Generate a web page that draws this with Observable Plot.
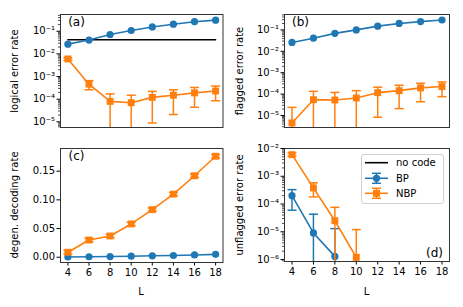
<!DOCTYPE html>
<html><head><meta charset="utf-8">
<script src="https://cdn.jsdelivr.net/npm/d3@7"></script>
<script src="https://cdn.jsdelivr.net/npm/@observablehq/plot@0.6"></script>
<style>
body{margin:0;background:#fff;font-family:"DejaVu Sans",sans-serif;}
#fig{position:relative;width:463px;height:307px;overflow:hidden;}
.p{position:absolute;}
.lab{position:absolute;font-size:10px;white-space:nowrap;color:#000;line-height:1;}
.ylab{transform:translate(-50%,-50%) rotate(-90deg);}
.xlab{transform:translate(-50%,-50%);}
</style></head><body><div id="fig"></div>
<script>
// ---------- data ----------
const L = [4, 6, 8, 10, 12, 14, 16, 18];
const noCode = 0.042;
const seriesNames = ["no code", "BP", "NBP"];
const panelTags = ["(a)", "(b)", "(c)", "(d)"];
const yLabels = ["logical error rate", "flagged error rate", "degen. decoding rate", "unflagged error rate"];
const xLabel = "L";

// (a) logical error rate
const bpLogical = [0.027, 0.041, 0.072, 0.108, 0.155, 0.205, 0.265, 0.31];
const nbpLogical = [6.0e-3, 4.6e-4, 8.0e-5, 7.0e-5, 1.2e-4, 1.5e-4, 1.9e-4, 2.3e-4];
const nbpLogicalLo = [5.2e-3, 2.6e-4, null, null, 8.9e-6, 2.1e-5, 4.4e-5, 8.5e-5];
const nbpLogicalHi = [6.7e-3, 6.6e-4, 1.7e-4, 1.5e-4, 2.2e-4, 2.6e-4, 3.3e-4, 3.8e-4];

// (b) flagged error rate
const bpFlagged = [0.026, 0.041, 0.069, 0.10, 0.15, 0.20, 0.245, 0.29];
const nbpFlagged = [4.5e-6, 5.5e-5, 5.3e-5, 6.6e-5, 1.17e-4, 1.45e-4, 1.95e-4, 2.25e-4];
const nbpFlaggedLo = [null, null, null, null, 8.3e-6, 2.1e-5, 4.4e-5, 7.6e-5];
const nbpFlaggedHi = [2.4e-5, 1.35e-4, 1.2e-4, 1.45e-4, 2.1e-4, 2.6e-4, 3.2e-4, 3.7e-4];

// (c) degenerate decoding rate
const bpDegen = [0.0005, 0.0008, 0.0012, 0.0018, 0.0025, 0.003, 0.004, 0.005];
const nbpDegen = [0.0087, 0.030, 0.037, 0.058, 0.083, 0.110, 0.142, 0.176];
const nbpDegenErr = [0.003, 0.003, 0.003, 0.003, 0.003, 0.003, 0.003, 0.003];

// (d) unflagged error rate
const Ld_bp = [4, 6, 8];
const bpUnflagged = [2.0e-4, 9.1e-6, 1.3e-6];
const bpUnflaggedLo = [6.0e-5, null, null];
const bpUnflaggedHi = [3.3e-4, 4.3e-5, 1.3e-5];
const Ld_nbp = [4, 6, 8, 10];
const nbpUnflagged = [6.0e-3, 3.8e-4, 2.5e-5, 1.2e-6];
const nbpUnflaggedLo = [5.3e-3, 1.8e-4, null, null];
const nbpUnflaggedHi = [6.9e-3, 5.8e-4, 7.6e-5, 1.2e-5];

// ---------- style ----------
const BLUE = "#1f77b4", ORANGE = "#ff7f0e";
const FONT = "DejaVu Sans";
const sup = {"-": "\u207B", "0": "\u2070", "1": "\u00B9", "2": "\u00B2", "3": "\u00B3", "4": "\u2074", "5": "\u2075", "6": "\u2076", "7": "\u2077", "8": "\u2078", "9": "\u2079"};
const fmtPow = d => "10" + String(Math.round(Math.log10(d))).replace(/./g, c => sup[c]);
const cap = {draw(ctx) { ctx.moveTo(-4.5, 0); ctx.lineTo(4.5, 0); }};

function rows(xs, v, lo, hi) {
  return xs.map((x, i) => ({L: x, v: v[i], lo: lo ? lo[i] : null, hi: hi ? hi[i] : null}));
}

function seriesMarks(data, color, symbol, r, yMin) {
  const err = data.filter(d => d.hi != null);
  return [
    Plot.line(data, {x: "L", y: "v", stroke: color, strokeWidth: 1.6}),
    Plot.ruleX(err, {x: "L", y1: d => d.lo == null ? yMin : d.lo, y2: "hi", stroke: color, strokeWidth: 1.5}),
    Plot.dot(err, {x: "L", y: "hi", symbol: cap, fill: "none", stroke: color, strokeWidth: 1.5}),
    Plot.dot(err.filter(d => d.lo != null), {x: "L", y: "lo", symbol: cap, fill: "none", stroke: color, strokeWidth: 1.5}),
    Plot.dot(data, {x: "L", y: "v", symbol, r, fill: color, stroke: "none"})
  ];
}

function logTicks(dom) {
  const lo = Math.floor(Math.log10(dom[0])), hi = Math.ceil(Math.log10(dom[1]));
  const major = [], minor = [];
  for (let k = lo; k <= hi; k++) {
    const b = Math.pow(10, k);
    if (b >= dom[0] && b <= dom[1]) major.push(b);
    for (let m = 2; m <= 9; m++) { const t = m * b; if (t >= dom[0] && t <= dom[1]) minor.push(t); }
  }
  return {major, minor};
}

const fig = document.getElementById("fig");

function place(node, left, top) {
  node.classList.add("p");
  node.style.left = left + "px";
  node.style.top = top + "px";
  fig.appendChild(node);
}

function makePanel({left, top, width, height, ml, mr, mt, mb, yType, yDomain, marks, showX, yTicks, yFmt}) {
  const axes = [];
  if (yType === "log") {
    const t = logTicks(yDomain);
    axes.push(Plot.axisY({ticks: t.minor, tickSize: 2, tickFormat: () => "", strokeWidth: 0.7}));
    axes.push(Plot.axisY({ticks: t.major, tickSize: 3.5, tickPadding: 2, tickFormat: fmtPow, fontSize: 10, label: null}));
  } else {
    axes.push(Plot.axisY({ticks: yTicks, tickSize: 3.5, tickPadding: 2, tickFormat: yFmt, fontSize: 10, label: null}));
  }
  if (showX) axes.push(Plot.axisX({ticks: L, tickSize: 3.5, tickPadding: 2.5, fontSize: 10, label: null}));
  else axes.push(Plot.axisX({ticks: [], label: null}));
  const svg = Plot.plot({
    width, height,
    marginLeft: ml, marginRight: mr, marginTop: mt, marginBottom: mb,
    style: {fontFamily: FONT, fontSize: "10px", background: "transparent", overflow: "visible"},
    x: {domain: [3.3, 18.7], label: null},
    y: {type: yType, domain: yDomain, label: null},
    marks: [...marks, ...axes, Plot.frame({stroke: "#333", strokeWidth: 1})]
  });
  place(svg, left, top);
}

function label(text, x, y, cls, size) {
  const d = document.createElement("div");
  d.className = "lab " + cls;
  d.textContent = text;
  d.style.left = x + "px";
  d.style.top = y + "px";
  if (size) d.style.fontSize = size + "px";
  fig.appendChild(d);
}

// ---------- panel (a) ----------
const domA = [Math.pow(10, -5.25), Math.pow(10, -0.26)];
makePanel({
  left: 0, top: 0, width: 231, height: 140, ml: 60, mr: 8.5, mt: 14, mb: 13,
  yType: "log", yDomain: domA, showX: false,
  marks: [
    Plot.line(L.map(x => ({L: x, v: noCode})), {x: "L", y: "v", stroke: "#000", strokeWidth: 1.6}),
    ...seriesMarks(rows(L, bpLogical), BLUE, "circle", 3.6, domA[0]),
    ...seriesMarks(rows(L, nbpLogical, nbpLogicalLo, nbpLogicalHi), ORANGE, "square", 3.9, domA[0])
  ]
});

// ---------- panel (b) ----------
const domB = [Math.pow(10, -5.56), Math.pow(10, -0.28)];
makePanel({
  left: 231, top: 0, width: 232, height: 140, ml: 53, mr: 14, mt: 14, mb: 13,
  yType: "log", yDomain: domB, showX: false,
  marks: [
    ...seriesMarks(rows(L, bpFlagged), BLUE, "circle", 3.6, domB[0]),
    ...seriesMarks(rows(L, nbpFlagged, nbpFlaggedLo, nbpFlaggedHi), ORANGE, "square", 3.9, domB[0])
  ]
});

// ---------- panel (c) ----------
const domC = [-0.0092, 0.1895];
makePanel({
  left: 0, top: 140, width: 231, height: 167, ml: 60, mr: 8.5, mt: 8, mb: 45,
  yType: "linear", yDomain: domC, showX: true,
  yTicks: [0, 0.05, 0.10, 0.15], yFmt: d3.format(".2f"),
  marks: [
    ...seriesMarks(rows(L, bpDegen), BLUE, "circle", 3.6, domC[0]),
    ...seriesMarks(rows(L, nbpDegen, nbpDegen.map((v, i) => v - nbpDegenErr[i]), nbpDegen.map((v, i) => v + nbpDegenErr[i])), ORANGE, "square", 3.9, domC[0])
  ]
});

// ---------- panel (d) ----------
const domD = [Math.pow(10, -6.07), Math.pow(10, -2)];
makePanel({
  left: 231, top: 140, width: 232, height: 167, ml: 53, mr: 14, mt: 8, mb: 46,
  yType: "log", yDomain: domD, showX: true,
  marks: [
    ...seriesMarks(rows(Ld_bp, bpUnflagged, bpUnflaggedLo, bpUnflaggedHi), BLUE, "circle", 3.6, domD[0]),
    ...seriesMarks(rows(Ld_nbp, nbpUnflagged, nbpUnflaggedLo, nbpUnflaggedHi), ORANGE, "square", 3.9, domD[0])
  ]
});

// ---------- texts ----------
label(yLabels[0], 15, 70.5, "ylab");
label(yLabels[1], 240, 70.5, "ylab");
label(yLabels[2], 15, 205, "ylab");
label(yLabels[3], 240, 204.5, "ylab");
label(xLabel, 141, 292, "xlab");
label(xLabel, 366.5, 292, "xlab");
label(panelTags[0], 76.5, 22, "xlab", 12);
label(panelTags[1], 300.5, 22, "xlab", 12);
label(panelTags[2], 76.5, 156, "xlab", 12);
label(panelTags[3], 434.5, 253, "xlab", 12);

// ---------- legend ----------
const lg = d3.create("svg").attr("width", 90).attr("height", 56)
  .style("font-family", FONT).style("font-size", "10px").style("overflow", "visible");
lg.append("rect").attr("x", 0.5).attr("y", 0.5).attr("width", 82).attr("height", 49).attr("rx", 2.5)
  .attr("fill", "#fff").attr("fill-opacity", 0.8).attr("stroke", "#d0d0d0").attr("stroke-width", 1);
const items = [
  {name: seriesNames[0], color: "#000", sym: null, cy: 8.7},
  {name: seriesNames[1], color: BLUE, sym: "circle", cy: 24.3},
  {name: seriesNames[2], color: ORANGE, sym: "square", cy: 39.3}
];
for (const it of items) {
  const g = lg.append("g").attr("transform", `translate(0,${it.cy})`);
  g.append("line").attr("x1", 4).attr("x2", 27).attr("stroke", it.color).attr("stroke-width", 1.6);
  if (it.sym) {
    g.append("line").attr("x1", 15.5).attr("x2", 15.5).attr("y1", -5).attr("y2", 5).attr("stroke", it.color).attr("stroke-width", 1.5);
    g.append("line").attr("x1", 11).attr("x2", 20).attr("y1", -5).attr("y2", -5).attr("stroke", it.color).attr("stroke-width", 1.5);
    g.append("line").attr("x1", 11).attr("x2", 20).attr("y1", 5).attr("y2", 5).attr("stroke", it.color).attr("stroke-width", 1.5);
    if (it.sym === "circle") g.append("circle").attr("cx", 15.5).attr("r", 3.6).attr("fill", it.color);
    else g.append("rect").attr("x", 12).attr("y", -3.5).attr("width", 7).attr("height", 7).attr("fill", it.color);
  }
  g.append("text").attr("x", 35).attr("dy", "0.35em").text(it.name);
}
const lgNode = lg.node();
lgNode.classList.add("p");
lgNode.style.left = "361px";
lgNode.style.top = "154px";
fig.appendChild(lgNode);
</script></body></html>
